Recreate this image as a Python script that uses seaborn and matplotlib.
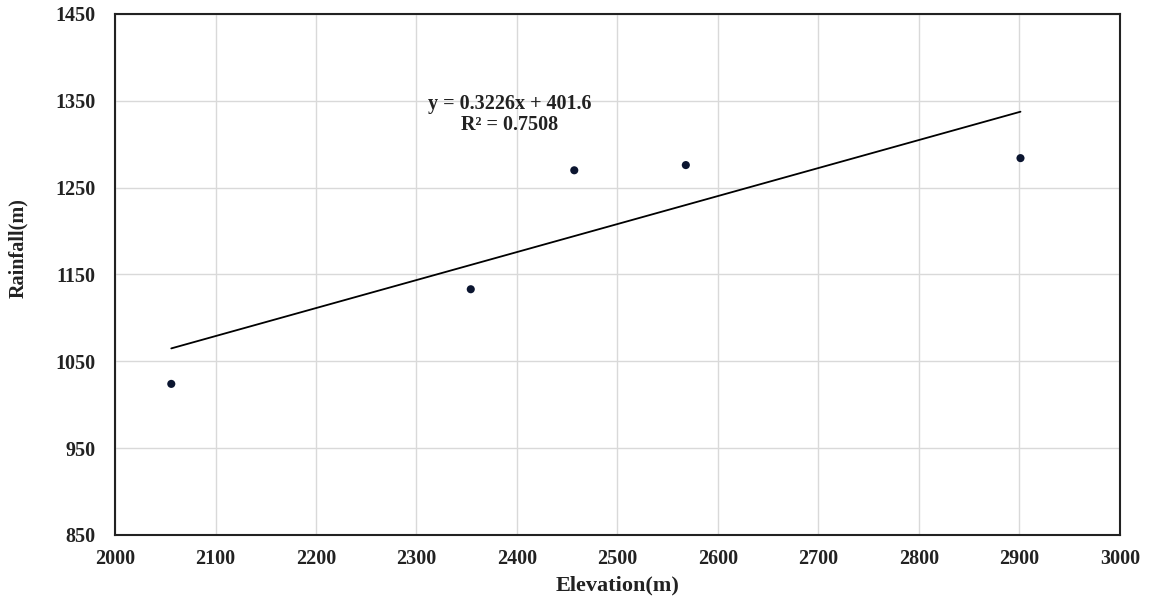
import numpy as np
import pandas as pd
import matplotlib
matplotlib.use("Agg")
import matplotlib.pyplot as plt
import seaborn as sns

elevation = [2056, 2354, 2457, 2568, 2901]
rainfall = [1024, 1133, 1270, 1276, 1284]
slope = 0.3226
intercept = 401.6
r2 = 0.7508
x_ticks = [2000, 2100, 2200, 2300, 2400, 2500, 2600, 2700, 2800, 2900, 3000]
y_ticks = [850, 950, 1050, 1150, 1250, 1350, 1450]

sns.set_theme(style="white")
plt.rcParams['font.family'] = ['Liberation Serif', 'DejaVu Serif']

fig = plt.figure(figsize=(11.57, 5.98), dpi=100)
ax = fig.add_axes([0.0994, 0.1054, 0.8686, 0.8712])

df = pd.DataFrame({"Elevation": elevation, "Rainfall": rainfall})
xs = np.array([min(elevation), max(elevation)])
line_df = pd.DataFrame({"Elevation": xs, "Rainfall": slope * xs + intercept})

sns.lineplot(data=line_df, x="Elevation", y="Rainfall", ax=ax, color="black", linewidth=1.3)
sns.scatterplot(data=df, x="Elevation", y="Rainfall", ax=ax, color="#0b1530", s=34, edgecolor="none", zorder=5)

ax.set_xlim(2000, 3000)
ax.set_ylim(850, 1450)
ax.set_xticks(x_ticks)
ax.set_yticks(y_ticks)
ax.grid(True, color="#d9d9d9", linewidth=1.0)
ax.set_axisbelow(True)
for s in ax.spines.values():
    s.set_color("#222222")
    s.set_linewidth(1.5)
ax.tick_params(axis="both", length=0, labelsize=14.5, colors="#222222")
ax.tick_params(axis="x", pad=10)
ax.tick_params(axis="y", pad=14)
for lab in ax.get_xticklabels() + ax.get_yticklabels():
    lab.set_fontweight("bold")

ax.set_xlabel("Elevation(m)", fontsize=16, fontweight="bold", color="#222222", labelpad=5)
ax.set_ylabel("Rainfall(m)", fontsize=14.5, fontweight="bold", color="#222222")
ax.yaxis.set_label_coords(-0.086, 0.551)

ax.text(2393, 1334, f"y = {slope}x + {intercept}\nR² = {r2}", fontsize=14.5, fontweight="bold",
        ha="center", va="center", color="#222222", linespacing=1.05)

fig.savefig("out.png", dpi=100)
